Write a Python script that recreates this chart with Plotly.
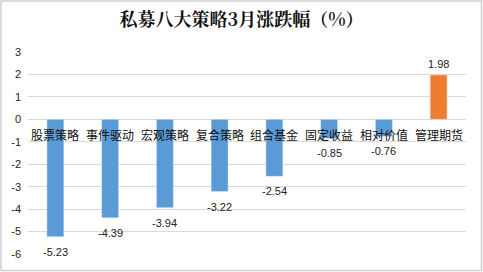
import plotly.graph_objects as go

categories = ["股票策略", "事件驱动", "宏观策略", "复合策略", "组合基金", "固定收益", "相对价值", "管理期货"]
values = [-5.23, -4.39, -3.94, -3.22, -2.54, -0.85, -0.76, 1.98]
colors = ["#5B9BD5"] * 7 + ["#ED7D31"]
title = "私募八大策略3月涨跌幅（%）"
yticks = [3, 2, 1, 0, -1, -2, -3, -4, -5, -6]

W, H = 483, 272
ml, mr, mt, mb = 28, 17, 52, 18
pw, ph = W - ml - mr, H - mt - mb

font_cjk = "Noto Sans CJK SC, Microsoft YaHei, sans-serif"
font_num = "Liberation Sans, Arial"

fig = go.Figure()
fig.add_trace(go.Bar(
    x=categories, y=values, marker_color=colors, width=0.31,
    cliponaxis=False, hoverinfo="x+y",
))

for c, v in zip(categories, values):
    fig.add_annotation(x=c, y=v, yref="y", text=f"{v:.2f}", showarrow=False,
                       yanchor="top" if v < 0 else "bottom",
                       yshift=-7 if v < 0 else 3,
                       font=dict(size=11, color="#222", family=font_num))

for c in categories:
    fig.add_annotation(x=c, y=0, yref="y", text=c, showarrow=False,
                       yanchor="top", yshift=-5,
                       font=dict(size=12, color="#111", family=font_cjk))

fig.add_shape(type="rect", xref="paper", yref="paper",
              x0=-(ml - 1) / pw, x1=1 + (mr - 1.5) / pw,
              y0=-(mb - 1.5) / ph, y1=1 + (mt - 1) / ph,
              line=dict(color="#d0d0d0", width=1.5), layer="below")

fig.update_layout(
    width=W, height=H, margin=dict(l=ml, r=mr, t=mt, b=mb),
    paper_bgcolor="white", plot_bgcolor="white",
    title=dict(text=f"<b>{title}</b>", x=0.5, xanchor="center", y=1 - 20 / H, yanchor="middle",
               font=dict(size=18, color="#111", family="Noto Serif CJK SC, Noto Sans CJK SC, serif")),
    showlegend=False,
    xaxis=dict(showticklabels=False, showline=False, showgrid=False, zeroline=False),
    yaxis=dict(range=[-6, 3], tickvals=yticks, ticktext=[str(t) for t in yticks],
               showgrid=True, gridcolor="#d9d9d9", gridwidth=1, zeroline=True,
               zerolinecolor="#d9d9d9", zerolinewidth=1, showline=False,
               tickfont=dict(size=11, color="#222", family=font_num),
               ticks="", ticklabelstandoff=6),
    bargap=0.5,
)

fig.write_html("out.html")
